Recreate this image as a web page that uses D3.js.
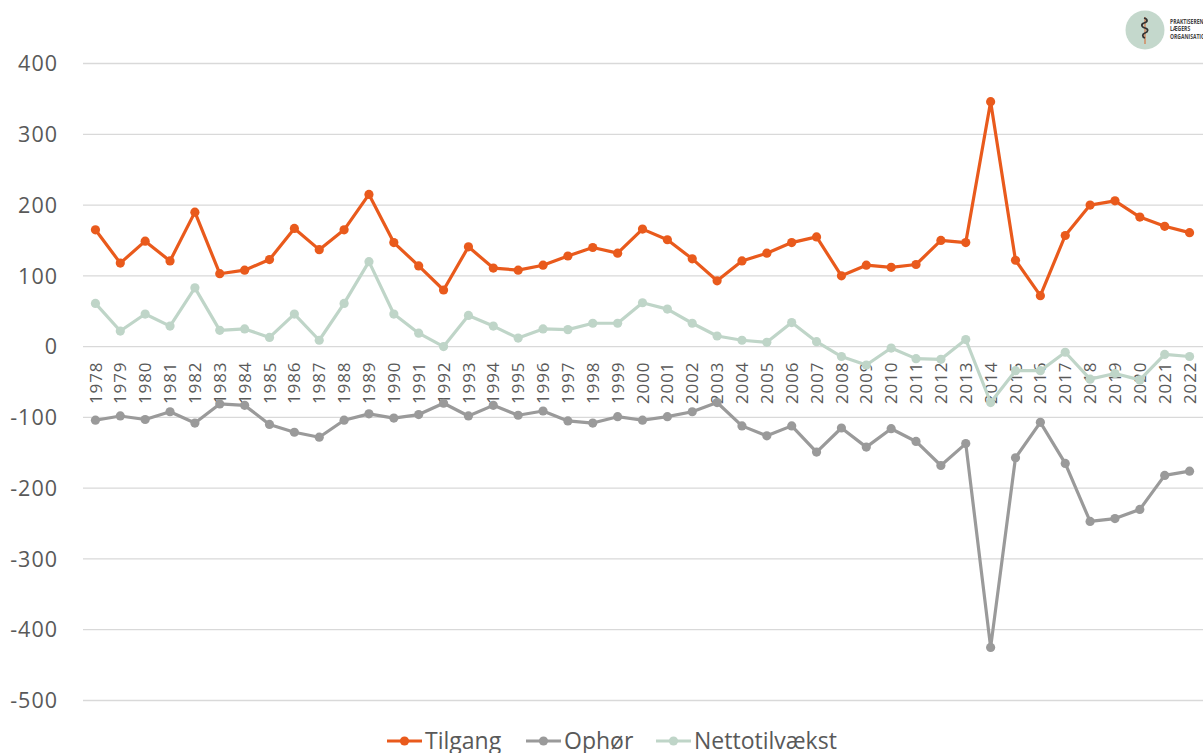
<!DOCTYPE html>
<meta charset="utf-8">
<title>Tilgang, ophør og nettotilvækst</title>
<style>
body { margin: 0; background: #fff; }
text { font-family: "Open Sans", sans-serif; fill: #595959; }
.grid line { stroke: #d9d9d9; stroke-width: 1.3; }
.line { fill: none; stroke-width: 3.2; stroke-linejoin: round; }
</style>
<body>
<script src="https://d3js.org/d3.v7.min.js"></script>
<script>

var years = d3.range(1978, 2023);

var tilgang = [165, 118, 149, 121, 190, 103, 108, 123, 167, 137, 165, 215,
               147, 114, 80, 141, 111, 108, 115, 128, 140, 132, 166, 151,
               124, 93, 121, 132, 147, 155, 100, 115, 112, 116, 150, 147,
               346, 122, 72, 157, 200, 206, 183, 170, 161];

var ophoer = [-104, -98, -103, -92, -108, -81, -83, -110, -121, -128, -104, -95,
              -101, -96, -80, -98, -83, -97, -91, -105, -108, -99, -104, -99,
              -92, -79, -112, -126, -112, -149, -115, -142, -116, -134, -168, -137,
              -425, -157, -107, -165, -247, -243, -230, -182, -176];

var netto = [61, 22, 46, 29, 83, 23, 25, 13, 46, 9, 61, 120,
             46, 19, 0, 44, 29, 12, 25, 24, 33, 33, 62, 53,
             33, 15, 9, 6, 34, 7, -14, -26, -2, -17, -18, 10,
             -79, -34, -34, -8, -46, -38, -47, -11, -14];

var yTicks = [400, 300, 200, 100, 0, -100, -200, -300, -400, -500];

var series = [
  {name: "Tilgang", values: tilgang, color: "#e95a1c"},
  {name: "Ophør", values: ophoer, color: "#9a9a9a"},
  {name: "Nettotilvækst", values: netto, color: "#bfd5c8"}
];

var width = 1203, height = 753;

var svg = d3.select("body").append("svg")
    .attr("width", width)
    .attr("height", height);

var x = d3.scaleBand()
    .domain(years)
    .range([83, 1202]);

var y = d3.scaleLinear()
    .domain([-500, 400])
    .range([700.5, 63.5]);

// gridlines
svg.append("g").attr("class", "grid")
  .selectAll("line")
  .data(yTicks)
  .enter().append("line")
    .attr("x1", 83)
    .attr("x2", width)
    .attr("y1", function(d) { return y(d); })
    .attr("y2", function(d) { return y(d); });

// y axis labels
svg.append("g")
  .selectAll("text")
  .data(yTicks)
  .enter().append("text")
    .attr("x", 58)
    .attr("y", function(d) { return y(d); })
    .attr("dy", "0.36em")
    .attr("text-anchor", "end")
    .style("font-size", "21.5px")
    .style("letter-spacing", "1px")
    .text(function(d) { return d; });

// year labels, rotated, hanging under the zero line
svg.append("g")
  .selectAll("text")
  .data(years)
  .enter().append("text")
    .attr("transform", function(d) {
      return "translate(" + (x(d) + x.bandwidth() / 2) + "," + (y(0) + 15) + ") rotate(-90)";
    })
    .attr("dy", "0.36em")
    .attr("text-anchor", "end")
    .style("font-size", "17px")
    .style("letter-spacing", "0.9px")
    .text(function(d) { return d; });

var line = d3.line()
    .x(function(d, i) { return x(years[i]) + x.bandwidth() / 2; })
    .y(function(d) { return y(d); });

series.forEach(function(s) {
  var g = svg.append("g");
  g.append("path")
    .attr("class", "line")
    .attr("stroke", s.color)
    .attr("d", line(s.values));
  g.selectAll("circle")
    .data(s.values)
    .enter().append("circle")
      .attr("cx", function(d, i) { return x(years[i]) + x.bandwidth() / 2; })
      .attr("cy", function(d) { return y(d); })
      .attr("r", 4.6)
      .attr("fill", s.color);
});

// legend
var legendX = [387, 526, 656];
var legend = svg.append("g")
  .selectAll("g")
  .data(series)
  .enter().append("g")
    .attr("transform", function(d, i) { return "translate(" + legendX[i] + ",741)"; });

legend.append("line")
    .attr("x1", 0).attr("x2", 35)
    .attr("stroke", function(d) { return d.color; })
    .attr("stroke-width", 3.2);
legend.append("circle")
    .attr("cx", 17.5)
    .attr("r", 4.6)
    .attr("fill", function(d) { return d.color; });
legend.append("text")
    .attr("x", 38)
    .attr("dy", "0.36em")
    .style("font-size", "23px")
    .text(function(d) { return d.name; });

// logo, top right
var logo = svg.append("g").attr("transform", "translate(1145,30)");
logo.append("circle").attr("r", 19.5).attr("fill", "#c4d8cc");
logo.append("line")
    .attr("x1", 0).attr("x2", 0).attr("y1", -13).attr("y2", 14)
    .attr("stroke", "#d9622b").attr("stroke-width", 1);
logo.append("path")
    .attr("d", "M-1,-12 C3,-11 3,-8 -1,-7 C-4,-6 -4,-3 0,-2 C4,-1 3,2 0,3 C-3,4 -3,7 0,8")
    .attr("fill", "none")
    .attr("stroke", "#333")
    .attr("stroke-width", 1.8);
var logoText = ["PRAKTISERENDE", "LÆGERS", "ORGANISATION"];
svg.append("g")
    .attr("transform", "translate(1170,0) scale(0.72,1)")
  .selectAll("text")
  .data(logoText)
  .enter().append("text")
    .attr("x", 0)
    .attr("y", function(d, i) { return 24 + i * 7.5; })
    .style("font-size", "7px")
    .style("font-weight", "bold")
    .style("fill", "#444")
    .text(function(d) { return d; });

</script>
</body>
